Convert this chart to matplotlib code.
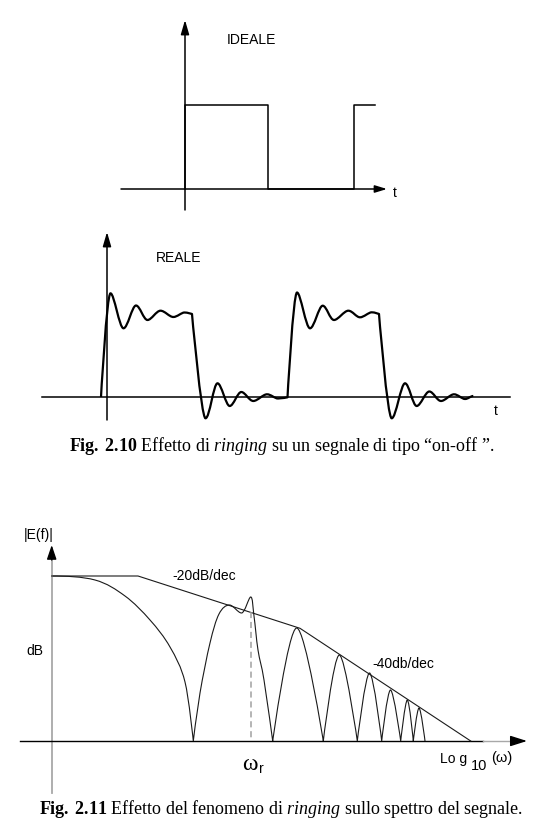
import numpy as np
import matplotlib.pyplot as plt
from matplotlib.path import Path
from matplotlib.patches import PathPatch

plt.rcParams['mathtext.fontset'] = 'custom'
plt.rcParams['mathtext.rm'] = 'Liberation Serif'
plt.rcParams['mathtext.bf'] = 'Liberation Serif:bold'
plt.rcParams['mathtext.it'] = 'Liberation Serif:italic'

SANS = 'Liberation Sans'
SERIF = 'Liberation Serif'

# --- data (pixel positions, y grows downwards) ---
# Fig 2.10 top: ideal on-off signal
ideal_x = [185, 185, 268, 268, 354, 354, 375]
ideal_y = [189, 105, 105, 189, 189, 105, 105]

# Fig 2.10 bottom: real signal with ringing (key points, c = corner, s = smooth extremum)
real_x = [101, 110.5, 123.5, 136, 147.5, 160.5, 173.3, 184.5, 192,
          205.5, 217.5, 229.7, 241.3, 253.3, 267, 278, 287.5,
          297, 310, 322.7, 334, 348.3, 360, 371.7, 379,
          391.7, 405, 416.7, 429.3, 441, 454, 465, 473.3]
real_y = [397, 293.3, 328.3, 305.5, 320, 310.7, 317, 312.5, 314,
          418.3, 383.3, 406, 392, 401, 394.3, 398.5, 397.3,
          292.5, 328.3, 305.7, 320, 310.7, 317.3, 312.3, 314,
          418.3, 383.3, 406, 391.5, 401, 394.3, 399, 396]
real_k = ['c', 's', 's', 's', 's', 's', 's', 's', 'c',
          's', 's', 's', 's', 's', 's', 's', 'c',
          's', 's', 's', 's', 's', 's', 's', 'c',
          's', 's', 's', 's', 's', 's', 's', 's']

# Fig 2.11: spectrum with ringing (m = smooth point on a slope)
spec_x = [51.7, 95, 125, 150, 170, 185, 193.3,
          200, 210, 219, 229.5, 241.5, 250.7, 254, 258, 264, 272.7,
          296.7, 323.3, 339.3, 357.3, 369.5, 381.7, 390.5, 400.7,
          407.3, 413.3, 419, 425]
spec_y = [576, 580, 596, 620, 647, 682, 741,
          693, 643, 614, 605, 613, 597, 616, 650, 680, 741,
          628, 741, 655, 741, 673, 741, 690, 741,
          700, 741, 708, 741]
spec_k = ['s', 'm', 'm', 'm', 'm', 'm', 'c',
          'm', 'm', 'm', 's', 's', 's', 'm', 'm', 'm', 'c',
          's', 'c', 's', 'c', 's', 'c', 's', 'c',
          's', 'c', 's', 'c']

# asymptotes: flat, -20dB/dec, -40dB/dec
asym_x = [51.7, 138, 300, 470.7]
asym_y = [576, 576, 628.3, 741]
omega_r = 250.7


def smooth_path(xs, ys, kinds):
    n = len(xs)
    tx = np.zeros(n)
    ty = np.zeros(n)
    for i in range(n):
        if kinds[i] == 'c':
            continue
        a, b = max(i - 1, 0), min(i + 1, n - 1)
        tx[i] = (xs[b] - xs[a]) / (b - a)
        if kinds[i] == 'm':
            ty[i] = (ys[b] - ys[a]) / (b - a)
    verts = [(xs[0], ys[0])]
    codes = [Path.MOVETO]
    for i in range(n - 1):
        verts += [(xs[i] + tx[i] / 3, ys[i] + ty[i] / 3),
                  (xs[i + 1] - tx[i + 1] / 3, ys[i + 1] - ty[i + 1] / 3),
                  (xs[i + 1], ys[i + 1])]
        codes += [Path.CURVE4] * 3
    return Path(verts, codes)


def arrow(ax, tail, tip, color='black', lw=1.0, hl=12, hw=7):
    # hl, hw in pixels
    ax.annotate('', xy=tip, xytext=tail,
                arrowprops=dict(arrowstyle='-|>,head_length=%.2f,head_width=%.2f' % (hl * 0.072, hw * 0.036),
                                mutation_scale=10, lw=lw, color=color,
                                shrinkA=0, shrinkB=0))


fig = plt.figure(figsize=(5.54, 8.22), dpi=100)
ax = fig.add_axes([0, 0, 1, 1])
ax.set_xlim(0, 554)
ax.set_ylim(822, 0)
ax.axis('off')

# ---- Fig 2.10 top: IDEALE ----
arrow(ax, (185, 210), (185, 20), lw=1.1, hl=12, hw=7)
arrow(ax, (121, 189), (387, 189), lw=1.1, hl=10, hw=6)
ax.plot(ideal_x, ideal_y, color='black', lw=1.1)
ax.text(227, 43.5, 'IDEALE', family=SANS, fontsize=10, va='baseline')
ax.text(393, 197, 't', family=SANS, fontsize=10, va='baseline')

# ---- Fig 2.10 bottom: REALE ----
arrow(ax, (107, 420), (107, 232), lw=1.1, hl=12, hw=7)
ax.plot([42, 510], [397, 397], color='black', lw=1.1)
ax.add_patch(PathPatch(smooth_path(real_x, real_y, real_k), fill=False,
                       ec='black', lw=1.6, joinstyle='round'))
ax.text(156, 262.3, 'REALE', family=SANS, fontsize=10, va='baseline')
ax.text(494, 415, 't', family=SANS, fontsize=10, va='baseline')

ax.text(282, 451, r'$\mathbf{Fig.\;2.10}$ Effetto di $\mathit{ringing}$ su un segnale di tipo “on-off ”.',
        family=SERIF, fontsize=13, ha='center', va='baseline')

# ---- Fig 2.11: spectrum ----
ax.plot([51.7, 51.7], [793, 556], color='#a8a8a8', lw=1.3)
arrow(ax, (51.7, 560), (51.7, 545), lw=1.0, hl=12, hw=8)
ax.plot([20, 483], [741, 741], color='black', lw=1.0)
ax.plot([483, 515], [741, 741], color='#a8a8a8', lw=1.0)
arrow(ax, (512, 741), (527, 741), lw=1.0, hl=14, hw=9)

ax.plot(asym_x, asym_y, color='#1a1a1a', lw=0.8)
ax.plot([omega_r, omega_r], [612, 741], color='#a0a0a0', lw=1.1, ls=(0, (4, 2.5)))
ax.add_patch(PathPatch(smooth_path(spec_x, spec_y, spec_k), fill=False,
                       ec='#1a1a1a', lw=0.8))

ax.text(39, 539, '|E(f)|', family=SANS, fontsize=10, ha='center', va='baseline')
ax.text(26, 655, 'dB', family=SANS, fontsize=10, va='baseline')
ax.text(172, 580, '-20dB/dec', family=SANS, fontsize=10, va='baseline')
ax.text(372, 668, '-40db/dec', family=SANS, fontsize=10, va='baseline')
ax.text(242, 770, 'ω', family=SERIF, fontsize=17, va='baseline')
ax.text(259, 773, 'r', family=SANS, fontsize=10, va='baseline')
ax.text(440, 763, 'Lo g', family=SANS, fontsize=10, va='baseline')
ax.text(471, 770, '10', family=SANS, fontsize=10.5, va='baseline')
ax.text(491, 762, '(ω)', family=SANS, fontsize=10.5, va='baseline')

ax.text(281, 814, r'$\mathbf{Fig.\;2.11}$ Effetto del fenomeno di $\mathit{ringing}$ sullo spettro del segnale.',
        family=SERIF, fontsize=13, ha='center', va='baseline')

fig.savefig('out.png', dpi=100)
